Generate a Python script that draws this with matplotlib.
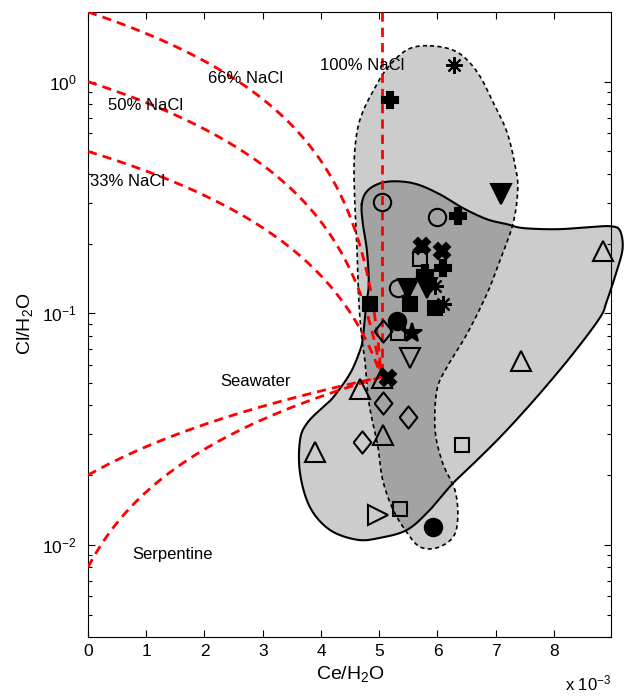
import numpy as np
import matplotlib
matplotlib.use("Agg")
import matplotlib.pyplot as plt

plt.rcParams['font.family'] = ['Liberation Sans', 'DejaVu Sans']
plt.rcParams['mathtext.fontset'] = 'custom'
plt.rcParams['mathtext.rm'] = 'Liberation Sans'
plt.rcParams['mathtext.it'] = 'Liberation Sans:italic'
plt.rcParams['mathtext.default'] = 'regular'

# --- data (Ce/H2O in units of 1e-3, Cl/H2O) ---
seawater = (5.04, 0.053)
nacl_starts = [2.0, 1.0, 0.5]          # Cl/H2O at Ce/H2O = 0 (66%, 50%, 33% NaCl)
nacl100_x = 5.04                        # vertical 100% NaCl line
serp_starts = [0.02, 0.008]             # serpentine endmembers

# envelope outlines: Ce/H2O (1e-3) and log10(Cl/H2O)
solid_x = [4.70, 4.79, 5.01, 5.30, 5.65, 6.04, 6.44, 6.85, 7.19, 7.47, 8.05, 8.62,
           8.96, 9.13, 9.18, 9.08, 8.91, 8.79, 8.33, 7.76, 7.19, 6.73, 6.27, 5.87,
           5.48, 5.01, 4.62, 4.15, 3.81, 3.64, 3.64, 3.76, 4.03, 4.21, 4.50, 4.67,
           4.72, 4.77, 4.82, 4.79, 4.72]
solid_ly = [-0.529, -0.473, -0.439, -0.430, -0.443, -0.486, -0.546, -0.594, -0.615,
            -0.632, -0.637, -0.628, -0.624, -0.641, -0.718, -0.817, -0.946, -1.019,
            -1.174, -1.346, -1.505, -1.622, -1.733, -1.849, -1.935, -1.970, -1.978,
            -1.935, -1.837, -1.690, -1.548, -1.475, -1.406, -1.363, -1.260, -1.161,
            -1.105, -0.976, -0.873, -0.731, -0.615]
dash_x = [5.87, 6.33, 6.68, 6.95, 7.19, 7.33, 7.38, 7.30, 7.07, 6.85, 6.51, 6.16,
          5.99, 5.96, 6.09, 6.30, 6.35, 6.27, 5.99, 5.70, 5.48, 5.24, 5.06, 4.98,
          4.89, 4.81, 4.76, 4.70, 4.65, 4.62, 4.58, 4.57, 4.62, 4.72, 4.89, 5.13, 5.48]
dash_ly = [0.155, 0.129, 0.043, -0.086, -0.215, -0.357, -0.460, -0.611, -0.774,
           -0.916, -1.088, -1.234, -1.333, -1.505, -1.647, -1.763, -1.880, -1.966,
           -2.013, -2.009, -1.948, -1.849, -1.720, -1.578, -1.475, -1.363, -1.217,
           -1.105, -0.946, -0.731, -0.516, -0.344, -0.215, -0.129, -0.043, 0.056, 0.138]

# samples grouped by symbol
open_circle_x = [5.05, 5.99, 5.32]
open_circle_y = [0.302, 0.260, 0.129]
filled_circle_x = [5.30, 5.92]
filled_circle_y = [0.093, 0.0119]
open_square_x = [5.70, 5.32, 6.42, 5.36]
open_square_y = [0.171, 0.082, 0.0269, 0.0143]
filled_square_x = [4.84, 5.53, 5.96]
filled_square_y = [0.110, 0.110, 0.105]
diamond_x = [5.06, 5.06, 5.49, 4.70]
diamond_y = [0.084, 0.0408, 0.0355, 0.0277]
tri_up_x = [4.67, 5.05, 5.06, 3.90, 8.84, 7.43]
tri_up_y = [0.0473, 0.0523, 0.0297, 0.0251, 0.186, 0.0625]
tri_down_open_x = [5.53]
tri_down_open_y = [0.064]
tri_down_x = [7.09, 5.49, 5.82]
tri_down_y = [0.327, 0.127, 0.129]
tri_right_x = [4.98]
tri_right_y = [0.0135]
plus_x = [5.18, 6.35, 6.09, 5.79]
plus_y = [0.83, 0.263, 0.157, 0.149]
cross_x = [5.73, 6.08, 5.15]
cross_y = [0.195, 0.186, 0.0528]
aster_x = [6.28, 5.96, 6.09]
aster_y = [1.18, 0.131, 0.110]
star_x = [5.56]
star_y = [0.082]

xticks = [0, 1, 2, 3, 4, 5, 6, 7, 8]


def smooth_closed(xs, ys, n=12):
    # uniform Catmull-Rom through the traced outline vertices
    p = np.column_stack([xs, ys])
    m = len(p)
    out = []
    t = np.linspace(0, 1, n, endpoint=False)[:, None]
    for i in range(m):
        p0, p1, p2, p3 = p[i - 1], p[i], p[(i + 1) % m], p[(i + 2) % m]
        seg = 0.5 * ((2 * p1) + (-p0 + p2) * t + (2 * p0 - 5 * p1 + 4 * p2 - p3) * t ** 2
                     + (-p0 + 3 * p1 - 3 * p2 + p3) * t ** 3)
        out.append(seg)
    out = np.vstack(out + [out[0][:1]])
    return out[:, 0] * 1e-3, 10 ** out[:, 1]


fig = plt.figure(figsize=(6.24, 6.96), dpi=100)
ax = fig.add_axes([88 / 624, 1 - 637 / 696, 523 / 624, 625 / 696])
ax.set_yscale('log')
ax.set_xlim(0, 0.00898)
ax.set_ylim(0.004, 2)

sx, sy = smooth_closed(solid_x, solid_ly)
dx, dy = smooth_closed(dash_x, dash_ly)
ax.fill(dx, dy, color='black', alpha=0.2, lw=0, zorder=1)
ax.fill(sx, sy, color='black', alpha=0.2, lw=0, zorder=1, clip_on=False)
ax.plot(dx, dy, color='black', lw=1.2, ls=(0, (2.5, 2)), zorder=2)
ax.plot(sx, sy, color='black', lw=1.5, zorder=2, clip_on=False)

# mixing lines towards seawater
f = np.linspace(0, 1, 80)
xs, ys = seawater[0] * 1e-3, seawater[1]
for y0 in nacl_starts + serp_starts:
    ax.plot(f * xs, y0 + (ys - y0) * f, color='#ff0000', lw=2, ls=(0, (3.3, 2.2)), zorder=3)
ax.plot([nacl100_x * 1e-3, nacl100_x * 1e-3], [2, ys], color='#ff0000', lw=2,
        ls=(0, (3.3, 2.2)), zorder=3)

kw = dict(ls='none', color='black', mew=1.5, zorder=4, clip_on=False)
s = lambda v: np.array(v) * 1e-3
diam = [(-0.4, 0), (0, 0.5), (0.4, 0), (0, -0.5), (-0.4, 0)]
ax.plot(s(open_circle_x), open_circle_y, marker='o', ms=12.5, mfc='none', **kw)
ax.plot(s(filled_circle_x), filled_circle_y, marker='o', ms=12.5, **kw)
ax.plot(s(open_square_x), open_square_y, marker='s', ms=10.5, mfc='none', **kw)
ax.plot(s(filled_square_x), filled_square_y, marker='s', ms=10.5, **kw)
ax.plot(s(diamond_x), diamond_y, marker=diam, ms=16, mfc='none', **kw)
ax.plot(s(tri_up_x), tri_up_y, marker='^', ms=14, mfc='none', **kw)
ax.plot(s(tri_down_open_x), tri_down_open_y, marker='v', ms=14, mfc='none', **kw)
ax.plot(s(tri_down_x), tri_down_y, marker='v', ms=14, **kw)
ax.plot(s(tri_right_x), tri_right_y, marker='>', ms=14, mfc='none', **kw)
ax.plot(s(plus_x), plus_y, marker='P', ms=12, **kw)
ax.plot(s(cross_x), cross_y, marker='X', ms=11, **kw)
ax.plot(s(aster_x), aster_y, marker=(8, 2, 0), ms=12, **kw)
ax.plot(s(star_x), star_y, marker='*', ms=15, **kw)

# annotations
ax.text(3.98e-3, 1.18, '100% NaCl', fontsize=12, va='center')
ax.text(2.06e-3, 1.03, '66% NaCl', fontsize=12, va='center')
ax.text(0.34e-3, 0.789, '50% NaCl', fontsize=12, va='center')
ax.text(0.03e-3, 0.371, '33% NaCl', fontsize=12, va='center')
ax.text(2.27e-3, 0.0507, 'Seawater', fontsize=12, va='center')
ax.text(0.755e-3, 0.00906, 'Serpentine', fontsize=12, va='center')

ax.set_xticks(s(xticks))
ax.set_xticklabels([str(t) for t in xticks])
ax.tick_params(which='both', direction='in', top=True, right=True, labelsize=12.5)
ax.tick_params(which='major', length=5, width=0.8)
ax.tick_params(which='minor', length=3, width=0.8)
ax.tick_params(axis='x', pad=5)
ax.tick_params(axis='y', pad=8)

fig.text(350 / 624, 1 - 674 / 696, 'Ce/H$_2$O', fontsize=14, ha='center', va='center')
fig.text(25 / 624, 1 - 324 / 696, 'Cl/H$_2$O', fontsize=14, ha='center', va='center',
         rotation=90)
ax.text(1.0, -0.074, r'x 10$^{-3}$', transform=ax.transAxes, fontsize=12,
        ha='right', va='center')

fig.savefig('out.png', dpi=100)
